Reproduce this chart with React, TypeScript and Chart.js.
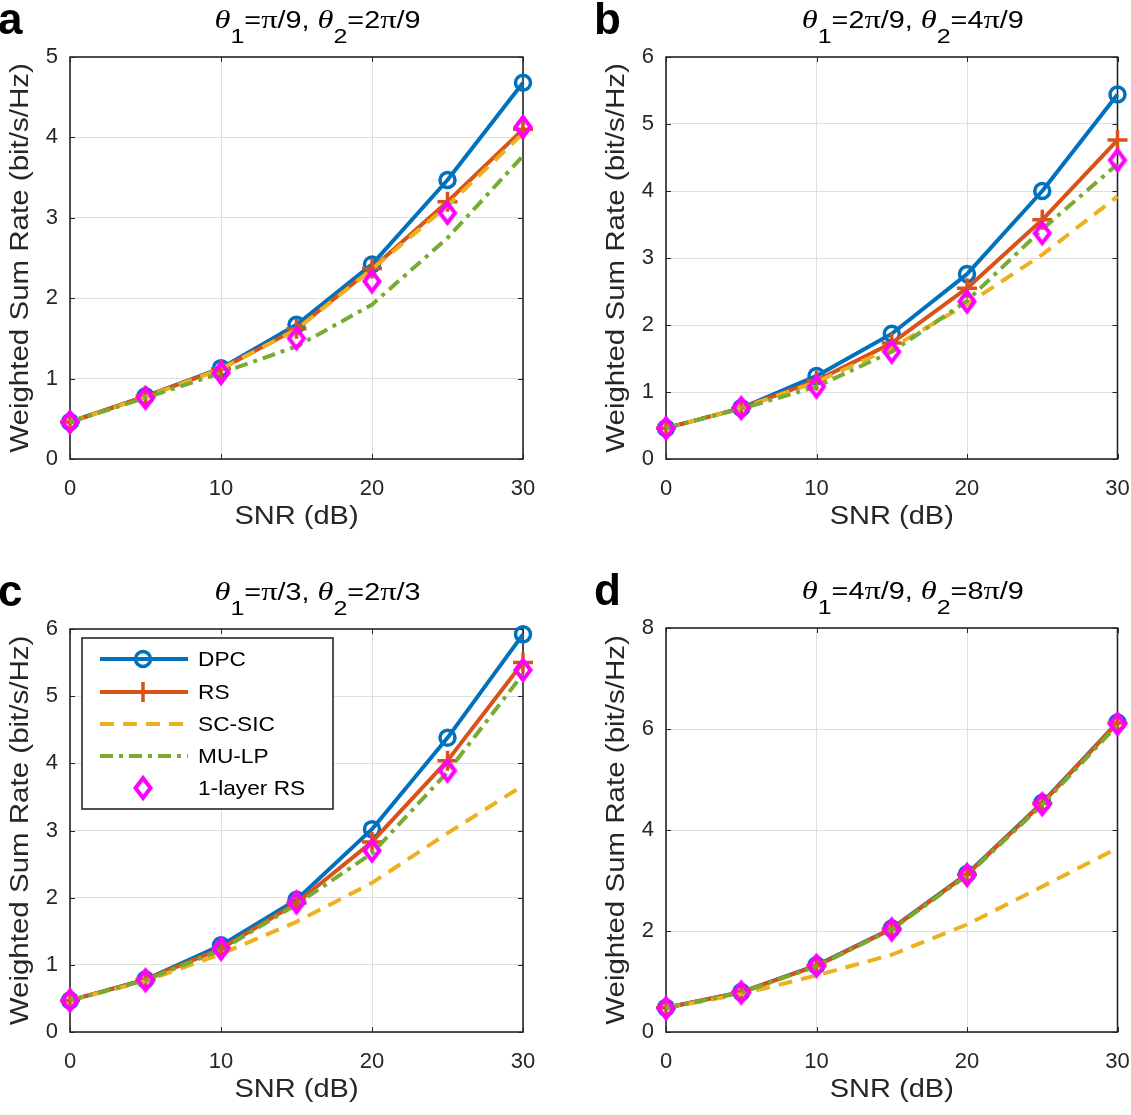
import React, { useEffect, useRef } from 'react';
import { Chart, registerables } from 'chart.js';

Chart.register(...registerables);

// ---------------- data ----------------
const SNR = [0, 5, 10, 15, 20, 25, 30];
const SERIES = ['DPC', 'RS', 'SC-SIC', 'MU-LP', '1-layer RS'];
const X_TICKS = [0, 10, 20, 30];
const PANEL_LETTERS = ['a', 'b', 'c', 'd'];
const THETA1 = ['π/9', '2π/9', 'π/3', '4π/9'];
const THETA2 = ['2π/9', '4π/9', '2π/3', '8π/9'];
const Y_MAX = [5, 6, 6, 8];
const Y_STEP = [1, 1, 1, 2];
const X_TITLE = 'SNR (dB)';
const Y_TITLE = 'Weighted Sum Rate (bit/s/Hz)';

// panel a: θ1=π/9, θ2=2π/9
const A_DPC = [0.46, 0.78, 1.13, 1.67, 2.42, 3.47, 4.68];
const A_RS = [0.46, 0.78, 1.12, 1.62, 2.37, 3.2, 4.1];
const A_SCSIC = [0.46, 0.77, 1.12, 1.61, 2.36, 3.15, 4.05];
const A_MULP = [0.46, 0.76, 1.07, 1.4, 1.92, 2.75, 3.77];
const A_RS1 = [0.46, 0.76, 1.07, 1.5, 2.21, 3.06, 4.13];

// panel b: θ1=2π/9, θ2=4π/9
const B_DPC = [0.46, 0.76, 1.24, 1.87, 2.76, 4.0, 5.44];
const B_RS = [0.46, 0.76, 1.17, 1.73, 2.55, 3.57, 4.76];
const B_SCSIC = [0.46, 0.76, 1.15, 1.66, 2.31, 3.05, 3.92];
const B_MULP = [0.46, 0.75, 1.08, 1.6, 2.36, 3.43, 4.4];
const B_RS1 = [0.46, 0.76, 1.08, 1.6, 2.35, 3.37, 4.46];

// panel c: θ1=π/3, θ2=2π/3
const C_DPC = [0.47, 0.78, 1.29, 1.97, 3.02, 4.38, 5.92];
const C_RS = [0.47, 0.78, 1.24, 1.92, 2.83, 4.04, 5.5];
const C_SCSIC = [0.47, 0.76, 1.16, 1.64, 2.22, 2.96, 3.67];
const C_MULP = [0.47, 0.77, 1.22, 1.9, 2.66, 3.87, 5.33];
const C_RS1 = [0.47, 0.77, 1.24, 1.93, 2.7, 3.89, 5.39];

// panel d: θ1=4π/9, θ2=8π/9
const D_DPC = [0.48, 0.79, 1.32, 2.05, 3.13, 4.54, 6.13];
const D_RS = [0.48, 0.79, 1.31, 2.04, 3.12, 4.53, 6.12];
const D_SCSIC = [0.48, 0.75, 1.12, 1.53, 2.13, 2.88, 3.64];
const D_MULP = [0.47, 0.78, 1.3, 2.03, 3.1, 4.5, 6.08];
const D_RS1 = [0.47, 0.78, 1.31, 2.03, 3.11, 4.51, 6.1];

const PANEL_VALUES = [
  [A_DPC, A_RS, A_SCSIC, A_MULP, A_RS1],
  [B_DPC, B_RS, B_SCSIC, B_MULP, B_RS1],
  [C_DPC, C_RS, C_SCSIC, C_MULP, C_RS1],
  [D_DPC, D_RS, D_SCSIC, D_MULP, D_RS1],
];

// ---------------- styles / layout ----------------
const SANS = '"Liberation Sans", Arial, Helvetica, sans-serif';
const SERIF = '"Liberation Serif", "Times New Roman", serif';
const AXIS_COLOR = '#262626';
const GRID_COLOR = '#dfdfdf';
const COLORS = ['#0072BD', '#D95319', '#EDB120', '#77AC30', '#FF00FF'];
const DASHES: number[][] = [[], [], [14, 9], [13, 6, 4, 6], []];

type Layout = { left: number; top: number; w: number; h: number; L: number; R: number; T: number; B: number };
const LAYOUTS: Layout[] = [
  { left: 0, top: 0, w: 565, h: 557, L: 70, R: 523, T: 57, B: 459 },
  { left: 565, top: 0, w: 566, h: 557, L: 666, R: 1118, T: 57, B: 459 },
  { left: 0, top: 557, w: 565, h: 558, L: 70, R: 523, T: 629, B: 1032 },
  { left: 565, top: 557, w: 566, h: 558, L: 666, R: 1118, T: 628, B: 1032 },
];

let diamondCache: HTMLCanvasElement | null = null;
function diamond(): HTMLCanvasElement {
  if (diamondCache) return diamondCache;
  const c = document.createElement('canvas');
  c.width = 28;
  c.height = 34;
  const g = c.getContext('2d')!;
  g.strokeStyle = '#FF00FF';
  g.lineWidth = 4;
  g.lineJoin = 'miter';
  g.miterLimit = 10;
  g.beginPath();
  g.moveTo(14, 7);
  g.lineTo(21.5, 17);
  g.lineTo(14, 27);
  g.lineTo(6.5, 17);
  g.closePath();
  g.stroke();
  diamondCache = c;
  return c;
}

function drawMarker(ctx: CanvasRenderingContext2D, k: number, x: number, y: number) {
  ctx.save();
  if (k === 0) {
    ctx.strokeStyle = COLORS[0];
    ctx.lineWidth = 3.5;
    ctx.beginPath();
    ctx.arc(x, y, 7.5, 0, Math.PI * 2);
    ctx.stroke();
  } else if (k === 1) {
    ctx.strokeStyle = COLORS[1];
    ctx.lineWidth = 3.5;
    ctx.beginPath();
    ctx.moveTo(x - 10, y);
    ctx.lineTo(x + 10, y);
    ctx.moveTo(x, y - 10);
    ctx.lineTo(x, y + 10);
    ctx.stroke();
  } else if (k === 4) {
    const d = diamond();
    ctx.drawImage(d, x - d.width / 2, y - d.height / 2);
  }
  ctx.restore();
}

const framePlugin = {
  id: 'matlabFrame',
  beforeDatasetsDraw(chart: any) {
    const { ctx, chartArea: a, scales } = chart;
    ctx.save();
    ctx.strokeStyle = AXIS_COLOR;
    ctx.lineWidth = 1;
    const tl = 5;
    ctx.beginPath();
    scales.x.ticks.forEach((t: any) => {
      const px = Math.round(scales.x.getPixelForValue(t.value)) + 0.5;
      ctx.moveTo(px, a.bottom);
      ctx.lineTo(px, a.bottom - tl);
      ctx.moveTo(px, a.top);
      ctx.lineTo(px, a.top + tl);
    });
    scales.y.ticks.forEach((t: any) => {
      const py = Math.round(scales.y.getPixelForValue(t.value)) + 0.5;
      ctx.moveTo(a.left, py);
      ctx.lineTo(a.left + tl, py);
      ctx.moveTo(a.right, py);
      ctx.lineTo(a.right - tl, py);
    });
    ctx.stroke();
    ctx.lineWidth = 1.6;
    ctx.strokeRect(a.left, a.top, a.right - a.left, a.bottom - a.top);
    ctx.restore();
  },
};

function drawTitle(ctx: CanvasRenderingContext2D, idx: number, cx: number, baseline: number) {
  type Run = { t: string; font: string; dy: number };
  const runs: Run[] = [];
  const pushText = (s: string) => {
    for (const ch of s) {
      if (ch === 'π') runs.push({ t: ch, font: `26px ${SERIF}`, dy: 0 });
      else runs.push({ t: ch, font: `23px ${SANS}`, dy: 0 });
    }
  };
  runs.push({ t: 'θ', font: `italic 26px ${SERIF}`, dy: 0 });
  runs.push({ t: '1', font: `20px ${SANS}`, dy: 15 });
  pushText('=' + THETA1[idx] + ', ');
  runs.push({ t: 'θ', font: `italic 26px ${SERIF}`, dy: 0 });
  runs.push({ t: '2', font: `20px ${SANS}`, dy: 15 });
  pushText('=' + THETA2[idx]);
  const sx = 1.25;
  let total = 0;
  const widths = runs.map((r) => {
    ctx.font = r.font;
    const w = ctx.measureText(r.t).width;
    total += w;
    return w;
  });
  ctx.save();
  ctx.translate(cx - (total * sx) / 2, baseline);
  ctx.scale(sx, 1);
  ctx.fillStyle = '#000';
  ctx.textBaseline = 'alphabetic';
  ctx.textAlign = 'left';
  let x = 0;
  runs.forEach((r, i) => {
    ctx.font = r.font;
    ctx.fillText(r.t, x, r.dy);
    x += widths[i];
  });
  ctx.restore();
}

function makeTextPlugin(idx: number) {
  return {
    id: 'matlabText',
    afterDraw(chart: any) {
      const { ctx, chartArea: a } = chart;
      ctx.save();
      // panel letter
      ctx.fillStyle = '#000';
      ctx.font = `bold 44px ${SANS}`;
      ctx.textAlign = 'left';
      ctx.textBaseline = 'alphabetic';
      ctx.fillText(PANEL_LETTERS[idx], a.left - 72, a.top - 23);
      // title
      drawTitle(ctx, idx, (a.left + a.right) / 2 + 21, a.top - 29);
      // x title
      ctx.fillStyle = AXIS_COLOR;
      ctx.font = `25px ${SANS}`;
      ctx.textAlign = 'center';
      ctx.textBaseline = 'middle';
      ctx.save();
      ctx.translate((a.left + a.right) / 2, a.bottom + 58);
      ctx.scale(1.16, 1);
      ctx.fillText(X_TITLE, 0, 0);
      ctx.restore();
      // y title
      ctx.save();
      ctx.translate(a.left - 49, (a.top + a.bottom) / 2);
      ctx.rotate(-Math.PI / 2);
      ctx.scale(1.18, 1);
      ctx.fillText(Y_TITLE, 0, 0);
      ctx.restore();
      ctx.restore();
    },
  };
}

const legendPlugin = {
  id: 'matlabLegend',
  afterDatasetsDraw(chart: any) {
    const { ctx, chartArea: a } = chart;
    const bx = a.left + 12;
    const by = a.top + 9;
    const bw = 251;
    const bh = 171;
    ctx.save();
    ctx.fillStyle = '#fff';
    ctx.fillRect(bx, by, bw, bh);
    ctx.strokeStyle = AXIS_COLOR;
    ctx.lineWidth = 1.6;
    ctx.strokeRect(bx, by, bw, bh);
    const ys = [30, 63, 95, 127, 159];
    SERIES.forEach((name, k) => {
      const y = a.top + ys[k];
      if (k !== 4) {
        ctx.save();
        ctx.strokeStyle = COLORS[k];
        ctx.lineWidth = 4;
        ctx.setLineDash(DASHES[k]);
        ctx.beginPath();
        ctx.moveTo(a.left + 30, y);
        ctx.lineTo(a.left + 118, y);
        ctx.stroke();
        ctx.restore();
      }
      drawMarker(ctx, k, a.left + 73, y);
      ctx.save();
      ctx.fillStyle = '#000';
      ctx.font = `21px ${SANS}`;
      ctx.textAlign = 'left';
      ctx.textBaseline = 'middle';
      ctx.translate(a.left + 128, y + 1);
      ctx.scale(1.08, 1);
      ctx.fillText(name, 0, 0);
      ctx.restore();
    });
    ctx.restore();
  },
};

function buildConfig(idx: number): any {
  const lay = LAYOUTS[idx];
  const padTop = lay.T - lay.top;
  const yW = lay.L - lay.left;
  const padRight = lay.left + lay.w - lay.R;
  const xH = lay.top + lay.h - lay.B;
  const vals = PANEL_VALUES[idx];
  const datasets = SERIES.map((name, k) => {
    const base: any = {
      label: name,
      data: SNR.map((x, j) => ({ x, y: vals[k][j] })),
      borderColor: COLORS[k],
      backgroundColor: COLORS[k],
      borderWidth: 4,
      borderDash: DASHES[k],
      borderJoinStyle: 'round',
      borderCapStyle: 'butt',
      tension: 0,
      clip: false,
      order: 5 - k,
      pointHoverRadius: 0,
    };
    if (k === 0)
      return { ...base, pointStyle: 'circle', pointRadius: 7.5, pointBorderWidth: 3.5, pointBackgroundColor: 'rgba(0,0,0,0)', pointBorderColor: COLORS[0] };
    if (k === 1)
      return { ...base, pointStyle: 'cross', pointRadius: 10, pointBorderWidth: 3.5, pointBorderColor: COLORS[1] };
    if (k === 4)
      return { ...base, showLine: false, pointStyle: diamond(), pointRadius: 10, pointBorderWidth: 0 };
    return { ...base, pointRadius: 0 };
  });
  const plugins: any[] = [framePlugin, makeTextPlugin(idx)];
  if (idx === 2) plugins.push(legendPlugin);
  return {
    type: 'line',
    data: { datasets },
    plugins,
    options: {
      responsive: false,
      animation: false,
      events: [],
      layout: { padding: { left: 0, top: padTop, right: padRight, bottom: 0 } },
      plugins: { legend: { display: false }, tooltip: { enabled: false }, title: { display: false } },
      scales: {
        x: {
          type: 'linear',
          min: 0,
          max: 30,
          afterBuildTicks: (s: any) => {
            s.ticks = X_TICKS.map((v) => ({ value: v }));
          },
          grid: { color: GRID_COLOR, lineWidth: 1, drawTicks: false },
          border: { display: false },
          ticks: { padding: 17, font: { size: 22, family: SANS }, color: AXIS_COLOR, maxRotation: 0, autoSkip: false },
          afterFit: (s: any) => {
            s.height = xH;
            s.paddingLeft = 0;
            s.paddingRight = 0;
          },
        },
        y: {
          type: 'linear',
          min: 0,
          max: Y_MAX[idx],
          grid: { color: GRID_COLOR, lineWidth: 1, drawTicks: false },
          border: { display: false },
          ticks: { stepSize: Y_STEP[idx], padding: 12, font: { size: 22, family: SANS }, color: AXIS_COLOR },
          afterFit: (s: any) => {
            s.width = yW;
            s.paddingTop = 0;
            s.paddingBottom = 0;
          },
        },
      },
    },
  };
}

function Panel({ idx }: { idx: number }) {
  const ref = useRef<HTMLCanvasElement>(null);
  useEffect(() => {
    const chart = new Chart(ref.current as HTMLCanvasElement, buildConfig(idx));
    return () => chart.destroy();
  }, [idx]);
  const L = LAYOUTS[idx];
  return (
    <canvas
      ref={ref}
      width={L.w}
      height={L.h}
      style={{ position: 'absolute', left: L.left, top: L.top, width: L.w, height: L.h }}
    />
  );
}

export default function App() {
  return (
    <div style={{ position: 'absolute', left: 0, top: 0, width: 1131, height: 1115, background: '#fff', overflow: 'hidden' }}>
      {[0, 1, 2, 3].map((i) => (
        <Panel key={i} idx={i} />
      ))}
    </div>
  );
}
